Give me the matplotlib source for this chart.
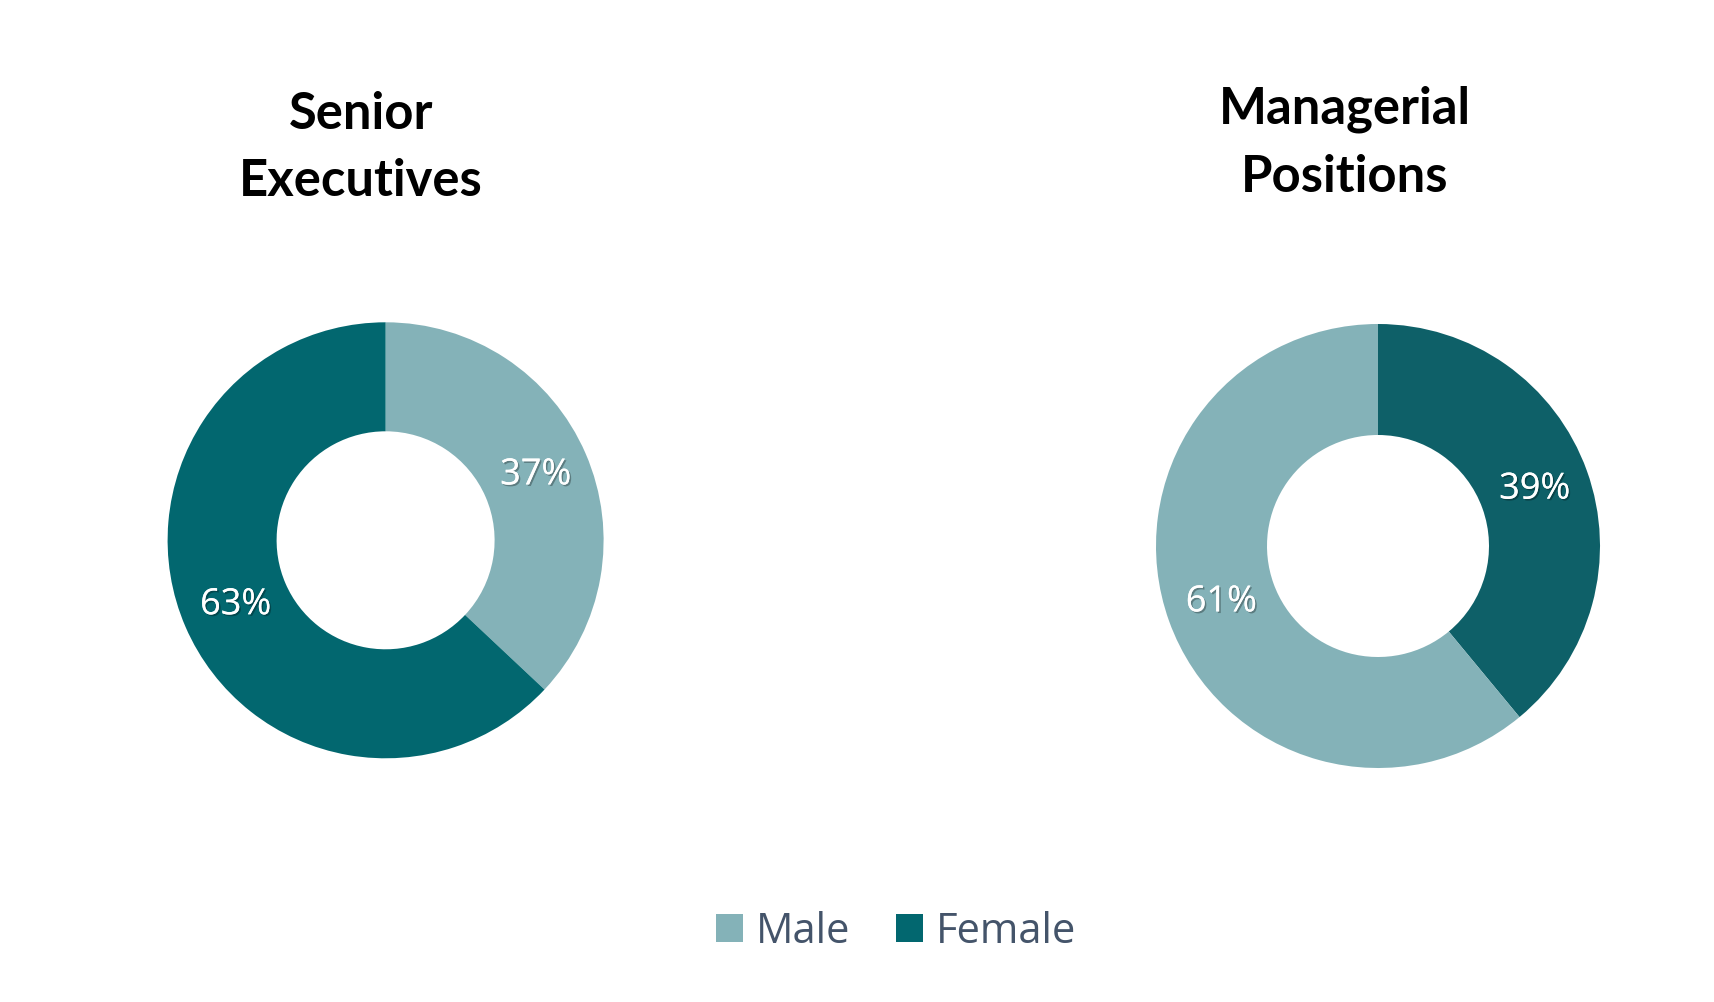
import matplotlib
matplotlib.use('Agg')
import matplotlib.pyplot as plt
from matplotlib.patches import Patch
import matplotlib.patheffects as pe

W, H = 1715, 1002

# data
groups = ['Senior\nExecutives', 'Managerial\nPositions']
senior_labels = ['Male', 'Female']
senior_vals = [37, 63]
manager_labels = ['Female', 'Male']
manager_vals = [39, 61]

light = '#84B2B8'
dark = '#02676F'
dark2 = '#0E6068'

fig = plt.figure(figsize=(W / 100, H / 100), dpi=100)
fig.patch.set_facecolor('white')


def donut(cx, cy, r, vals, colors):
    # cx, cy, r in pixels (y measured from top)
    ax = fig.add_axes([(cx - r) / W, (H - cy - r) / H, 2 * r / W, 2 * r / H])
    wedges, texts, autotexts = ax.pie(vals, colors=colors, startangle=90, counterclock=False,
                                      radius=1, wedgeprops=dict(width=0.5, linewidth=0),
                                      autopct=lambda p: '{:.0f}%'.format(p), pctdistance=0.75,
                                      textprops=dict(color='white', fontsize=26, family='Open Sans'))
    for t in autotexts:
        t.set_path_effects([pe.withSimplePatchShadow(offset=(1.2, -1.2), shadow_rgbFace='black', alpha=0.3), pe.Normal()])
    ax.set_xlim(-1, 1)
    ax.set_ylim(-1, 1)
    ax.set_aspect('equal')
    ax.axis('off')
    return ax


donut(385.6, 540.3, 218, senior_vals, [light, dark])
donut(1378, 546, 222, manager_vals, [dark2, light])

fig.text(361 / W, 1 - 148 / H, groups[0], ha='center', va='center', fontsize=36.5,
         fontweight='bold', family='Lato', linespacing=1.55)
fig.text(1345 / W, 1 - 143 / H, groups[1], ha='center', va='center', fontsize=36.5,
         fontweight='bold', family='Lato', linespacing=1.55)

handles = [Patch(facecolor=light, label='Male'), Patch(facecolor=dark, label='Female')]
fig.legend(handles=handles, loc='center', bbox_to_anchor=(896 / W, 1 - 932 / H), ncol=2,
           frameon=False, handlelength=0.65, handleheight=0.65,
           handletextpad=0.3, columnspacing=1.1, labelcolor='#44546A',
           prop=dict(family='Open Sans', size=30))

fig.savefig('out.png', dpi=100, facecolor='white')
